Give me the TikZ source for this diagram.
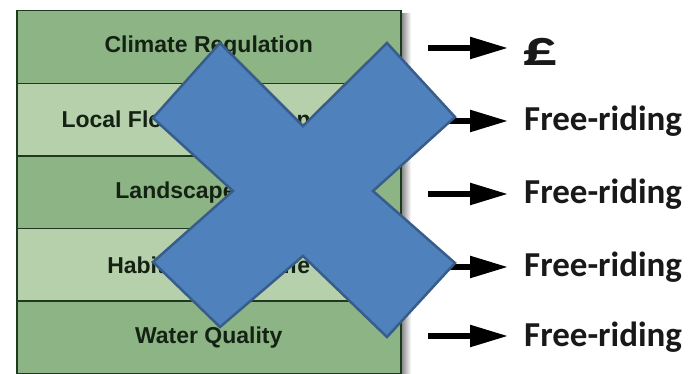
\documentclass[tikz,border=0pt]{standalone}
\usepackage{fontspec}
\setmainfont{Carlito}
\newfontfamily\boxfont{Liberation Sans}
\usetikzlibrary{arrows.meta}
\definecolor{darkrow}{HTML}{8CB484}
\definecolor{lightrow}{HTML}{B5D0AA}
\definecolor{rowline}{HTML}{1E3A1E}
\definecolor{crossfill}{HTML}{4F81BD}
\definecolor{crossline}{HTML}{385D8A}
\definecolor{labeltext}{HTML}{142214}
\tikzset{
  rowbox/.style={draw=rowline, line width=1.5pt, minimum width=384pt, minimum height=72.6pt, inner sep=0pt, anchor=north west},
  rowlabel/.style={font=\boxfont\bfseries\fontsize{23}{25}\selectfont, text=labeltext},
  outarrow/.style={line width=5.5pt, -{Triangle[length=38pt,width=21pt]}},
  outtext/.style={font=\bfseries\fontsize{35}{40}\selectfont, anchor=west, inner sep=0pt, text=black!90},
}
\begin{document}
\begin{tikzpicture}[x=1pt,y=1pt]
\useasboundingbox (0,0) rectangle (691,374);
\fill[white] (0,0) rectangle (691,374);
% shadow
\shade[left color=black!55, right color=white] (400,0) rectangle (411,360);
% rows
\node[rowbox, fill=darkrow]  (r1) at (16,364) {};
\node[rowbox, fill=lightrow] (r2) at (16,291.4) {};
\node[rowbox, fill=darkrow]  (r3) at (16,218.8) {};
\node[rowbox, fill=lightrow] (r4) at (16,146.2) {};
\node[rowbox, fill=darkrow]  (r5) at (16,73.6) {};
% labels
\node[rowlabel] (l1) at (r1.center) {Climate Regulation};
\node[rowlabel, anchor=west] (l2) at ([xshift=42pt]r2.west) {Local Flood Protection};
\node[rowlabel] (l3) at (r3.center) {Landscape Value};
\node[rowlabel] (l4) at (r4.center) {Habitat for Wildlife};
\node[rowlabel] (l5) at (r5.center) {Water Quality};
% outputs
\node[outtext, font=\bfseries\fontsize{50}{54}\selectfont, xscale=1.4, anchor=south west] (o1) at (522,308) {£};
\node[outtext] (o2) at (524,253) {Free-riding};
\node[outtext] (o3) at (524,180) {Free-riding};
\node[outtext] (o4) at (524,107) {Free-riding};
\node[outtext] (o5) at (524,37) {Free-riding};
\coordinate (a1) at (428,326);
\coordinate (a2) at (428,253);
\coordinate (a3) at (428,180);
\coordinate (a4) at (428,107);
\coordinate (a5) at (428,38);
\foreach \i in {1,...,5} {
  \draw[outarrow] (a\i) -- ([xshift=80pt]a\i);
}
% cross
\filldraw[fill=crossfill, draw=crossline, line width=2.5pt, line join=miter]
  (153,256) -- (220,331) -- (303,248) -- (387,331) -- (455,257) -- (373,183)
  -- (455,111) -- (387,37) -- (303,118) -- (220,47) -- (153,112) -- (233,183) -- cycle;
\end{tikzpicture}
\end{document}
